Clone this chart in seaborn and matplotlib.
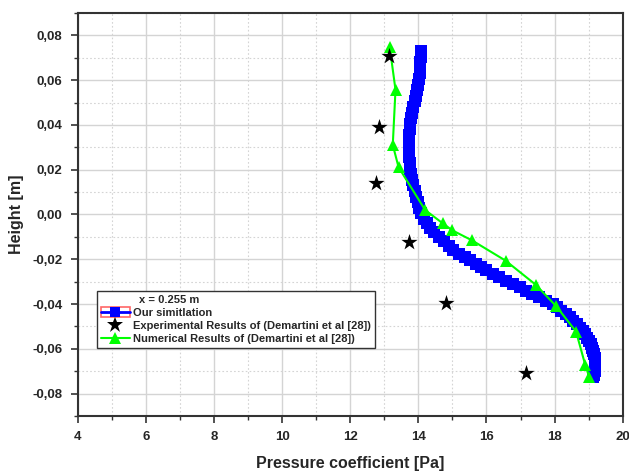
import matplotlib
matplotlib.use("Agg")
import matplotlib.pyplot as plt
import seaborn as sns
import numpy as np
import pandas as pd
from matplotlib.ticker import MultipleLocator, FuncFormatter
from matplotlib.lines import Line2D
from matplotlib.patches import Rectangle
from matplotlib.legend_handler import HandlerTuple

# ---- data ----
sim_x = [14.07, 14.07, 14.06, 14.05, 14.04, 14.02, 14.00, 13.97, 13.93, 13.89,
         13.85, 13.82, 13.79, 13.77, 13.75, 13.73, 13.72, 13.72, 13.73, 13.74,
         13.75, 13.77, 13.79, 13.82, 13.85, 13.89, 13.94, 13.98, 14.03, 14.08,
         14.16, 14.25, 14.35, 14.46, 14.60, 14.75, 14.90, 15.03, 15.20, 15.36,
         15.52, 15.70, 15.85, 16.00, 16.18, 16.38, 16.58, 16.78, 16.98, 17.17,
         17.35, 17.55, 17.75, 17.95, 18.08, 18.20, 18.33, 18.45, 18.55, 18.65,
         18.74, 18.82, 18.89, 18.95, 19.01, 19.06, 19.10, 19.13, 19.16, 19.18,
         19.20, 19.20, 19.19, 19.18, 19.16, 19.14]
sim_y = [0.0730, 0.0705, 0.0680, 0.0655, 0.0630, 0.0605, 0.0580, 0.0555, 0.0530, 0.0505,
         0.0480, 0.0455, 0.0430, 0.0405, 0.0380, 0.0355, 0.0330, 0.0305, 0.0280, 0.0255,
         0.0230, 0.0205, 0.0180, 0.0155, 0.0130, 0.0105, 0.0080, 0.0055, 0.0030, 0.0005,
         -0.0020, -0.0040, -0.0060, -0.0080, -0.0100, -0.0120, -0.0140, -0.0160, -0.0175, -0.0190,
         -0.0205, -0.0220, -0.0235, -0.0250, -0.0265, -0.0280, -0.0295, -0.0310, -0.0325, -0.0340,
         -0.0355, -0.0370, -0.0385, -0.0400, -0.0415, -0.0430, -0.0445, -0.0460, -0.0475, -0.0490,
         -0.0505, -0.0520, -0.0535, -0.0550, -0.0565, -0.0580, -0.0595, -0.0610, -0.0625, -0.0640,
         -0.0655, -0.0670, -0.0685, -0.0700, -0.0715, -0.0727]

exp_x = [13.14, 12.84, 12.75, 13.74, 14.80, 17.15]
exp_y = [0.0708, 0.0392, 0.0140, -0.0121, -0.0396, -0.0710]

num_x = [13.16, 13.33, 13.25, 13.42, 14.20, 14.72, 15.00, 15.58, 16.56, 17.44,
         18.05, 18.63, 18.90, 19.02]
num_y = [0.0748, 0.0557, 0.0311, 0.0211, 0.0020, -0.0040, -0.0071, -0.0116, -0.0206, -0.0313,
         -0.0410, -0.0523, -0.0672, -0.0727]

legend_title = "x = 0.255 m"
labels = ["Our simitlation",
          "Experimental Results of (Demartini et al [28])",
          "Numerical Results of (Demartini et al [28])"]

# ---- style ----
sns.set_style("white")
plt.rcParams['font.family'] = ['Liberation Sans', 'DejaVu Sans']
plt.rcParams['font.weight'] = 'bold'

fig = plt.figure(figsize=(6.29, 4.74), dpi=100)
ax = fig.add_axes([0.1235, 0.1224, 0.8665, 0.8502])

df_sim = pd.DataFrame({"x": sim_x, "y": sim_y})
df_exp = pd.DataFrame({"x": exp_x, "y": exp_y})
df_num = pd.DataFrame({"x": num_x, "y": num_y})

sns.lineplot(data=df_sim, x="x", y="y", sort=False, estimator=None, ax=ax,
             color="#0000FF", lw=2, marker="s", markersize=9,
             markeredgewidth=0, zorder=3)
sns.lineplot(data=df_num, x="x", y="y", sort=False, estimator=None, ax=ax,
             color="#00FF00", lw=1.5, marker="^", markersize=9,
             markeredgewidth=0, zorder=4)
sns.scatterplot(data=df_exp, x="x", y="y", ax=ax, color="black", marker="*",
                s=150, linewidth=0, zorder=5)

ax.set_xlim(4, 20)
ax.set_ylim(-0.09, 0.09)
ax.xaxis.set_major_locator(MultipleLocator(2))
ax.xaxis.set_minor_locator(MultipleLocator(1))
ax.yaxis.set_major_locator(MultipleLocator(0.02))
ax.yaxis.set_minor_locator(MultipleLocator(0.01))
ax.yaxis.set_major_formatter(FuncFormatter(lambda v, p: f"{v:.2f}".replace(".", ",").replace("-0,00", "0,00")))
ax.xaxis.set_major_formatter(FuncFormatter(lambda v, p: f"{v:.0f}"))

ax.grid(which="major", color="#d4d4d4", lw=1, ls="-")
ax.grid(which="minor", color="#d4d4d4", lw=0.8, ls=(0, (1.5, 2)))
ax.set_axisbelow(True)

for s in ax.spines.values():
    s.set_visible(True)
    s.set_color("#333333")
    s.set_linewidth(1.5)

ax.tick_params(which="major", direction="out", length=5, width=1.2, color="#333333",
               labelsize=9.5, bottom=True, left=True, pad=6)
ax.tick_params(which="minor", direction="out", length=3, width=1.0, color="#333333",
               bottom=True, left=True)
for lab in ax.get_xticklabels() + ax.get_yticklabels():
    lab.set_fontweight("bold")

ax.set_xlabel("Pressure coefficient [Pa]", fontsize=11.5, fontweight="bold", labelpad=9)
ax.set_ylabel("Height [m]", fontsize=11.5, fontweight="bold", labelpad=6)

h_sim = (Rectangle((0, 0), 1, 1, facecolor="white", edgecolor="#ff6666", lw=1.2),
         Line2D([], [], color="#0000FF", lw=2, marker="s", markersize=7, markeredgewidth=0))
h_exp = Line2D([], [], color="black", marker="*", markersize=12, lw=0, markeredgewidth=0)
h_num = Line2D([], [], color="#00FF00", lw=1.5, marker="^", markersize=9, markeredgewidth=0)

leg = ax.legend([h_sim, h_exp, h_num], labels, title=legend_title,
                loc="upper left", bbox_to_anchor=(0.035, 0.31),
                handler_map={tuple: HandlerTuple(ndivide=1, pad=0)},
                prop={"weight": "bold", "size": 8}, title_fontproperties={"weight": "bold", "size": 8},
                frameon=True, fancybox=False, edgecolor="#333333", framealpha=1,
                borderpad=0.35, labelspacing=0.2, handlelength=2.6, handleheight=1.0,
                handletextpad=0.3, borderaxespad=0)
leg.get_frame().set_linewidth(1.0)
leg._legend_box.align = "left"
leg.get_title().set_position((38, 0))

fig.savefig("out.png", dpi=100)
